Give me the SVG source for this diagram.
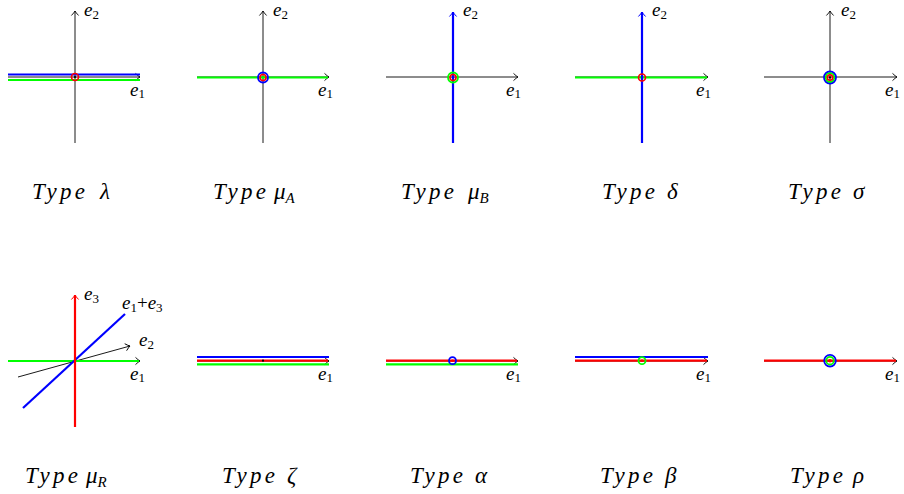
<svg xmlns="http://www.w3.org/2000/svg" width="904" height="494" viewBox="0 0 904 494">
<style>
.ax{stroke:#000;stroke-width:0.9;fill:none}
.b{stroke:#0000ff;stroke-width:2.2;fill:none}
.r{stroke:#ff0000;stroke-width:2.2;fill:none}
.gr{stroke:#00ff00;stroke-width:2.2;fill:none}
.cb{stroke:#0000ff;stroke-width:1.8;fill:none}
.cr{stroke:#ff0000;stroke-width:1.6;fill:none}
.cg{stroke:#00ff00;stroke-width:1.8;fill:none}
</style>
<defs>
<marker id="ak" markerUnits="userSpaceOnUse" markerWidth="12" markerHeight="12" refX="0" refY="0" viewBox="-6 -6 12 12" orient="auto" overflow="visible">
<path d="M-4.5,-3.6 Q-1.6,-0.8 0,0 Q-1.6,0.8 -4.5,3.6" stroke="#000" stroke-width="0.9" fill="none"/>
</marker>
<marker id="ab" markerUnits="userSpaceOnUse" markerWidth="12" markerHeight="12" refX="0" refY="0" viewBox="-6 -6 12 12" orient="auto" overflow="visible">
<path d="M-4.5,-3.6 Q-1.6,-0.8 0,0 Q-1.6,0.8 -4.5,3.6" stroke="#0000ff" stroke-width="1" fill="none"/>
</marker>
<marker id="ar" markerUnits="userSpaceOnUse" markerWidth="12" markerHeight="12" refX="0" refY="0" viewBox="-6 -6 12 12" orient="auto" overflow="visible">
<path d="M-4.5,-3.6 Q-1.6,-0.8 0,0 Q-1.6,0.8 -4.5,3.6" stroke="#ff0000" stroke-width="1" fill="none"/>
</marker>
</defs>

<g id="connectors">
<g id="lambda-lines">
<line class="ax" x1="75" y1="143" x2="75" y2="11" marker-end="url(#ak)"/>
<line class="ax" x1="8" y1="77" x2="140" y2="77" marker-end="url(#ak)"/>
<line class="b" x1="8" y1="74.5" x2="140" y2="74.5"/>
<line class="gr" x1="8" y1="80" x2="140" y2="80"/>
</g>
<g id="muA-lines">
<line class="ax" x1="263" y1="143" x2="263" y2="11" marker-end="url(#ak)"/>
<line class="ax" x1="197" y1="77" x2="329" y2="77" marker-end="url(#ak)"/>
<line class="gr" x1="197" y1="77.5" x2="328" y2="77.5"/>
</g>
<g id="muB-lines">
<line class="ax" x1="386" y1="77" x2="518" y2="77" marker-end="url(#ak)"/>
<line class="b" x1="453" y1="143" x2="453" y2="12" marker-end="url(#ab)"/>
</g>
<g id="delta-lines">
<line class="ax" x1="575" y1="77" x2="708" y2="77" marker-end="url(#ak)"/>
<line class="gr" x1="575" y1="77.5" x2="707" y2="77.5"/>
<line class="b" x1="642" y1="143" x2="642" y2="12" marker-end="url(#ab)"/>
</g>
<g id="sigma-lines">
<line class="ax" x1="830" y1="143" x2="830" y2="11" marker-end="url(#ak)"/>
<line class="ax" x1="764" y1="77" x2="897" y2="77" marker-end="url(#ak)"/>
</g>
<g id="muR-lines">
<line class="ax" x1="18" y1="377" x2="130" y2="346" marker-end="url(#ak)"/>
<line class="ax" x1="8" y1="361" x2="140" y2="361" marker-end="url(#ak)"/>
<line class="gr" x1="8" y1="361" x2="139" y2="361"/>
<line class="b" x1="23" y1="408" x2="125" y2="314"/>
<line class="r" x1="75" y1="427" x2="75" y2="295" marker-end="url(#ar)"/>
</g>
<g id="zeta-lines">
<line class="ax" x1="197" y1="361" x2="329" y2="361" marker-end="url(#ak)"/>
<line class="b" x1="197" y1="357" x2="329" y2="357"/>
<line class="r" x1="197" y1="360.7" x2="328" y2="360.7"/>
<line class="gr" x1="197" y1="364.3" x2="329" y2="364.3"/>
</g>
<g id="alpha-lines">
<line class="ax" x1="386" y1="361" x2="518" y2="361" marker-end="url(#ak)"/>
<line class="r" x1="386" y1="360.7" x2="517" y2="360.7"/>
<line class="gr" x1="386" y1="364.3" x2="518" y2="364.3"/>
</g>
<g id="beta-lines">
<line class="ax" x1="575" y1="361" x2="708" y2="361" marker-end="url(#ak)"/>
<line class="b" x1="575" y1="357" x2="708" y2="357"/>
<line class="r" x1="575" y1="360.7" x2="707" y2="360.7"/>
</g>
<g id="rho-lines">
<line class="ax" x1="764" y1="361" x2="897" y2="361" marker-end="url(#ak)"/>
<line class="r" x1="764" y1="360.7" x2="896" y2="360.7"/>
</g>
</g>

<g id="lambda">
<circle class="cr" cx="75" cy="77" r="3.5"/>
<circle cx="75" cy="77" r="1.1" fill="#000"/>
<text x="84" y="16" font-family="Liberation Serif" font-style="italic" font-size="19">e<tspan font-size="13" font-style="normal" dy="3">2</tspan></text>
<text x="130" y="96" font-family="Liberation Serif" font-style="italic" font-size="19">e<tspan font-size="13" font-style="normal" dy="2">1</tspan></text>
<text x="32" y="199" font-family="Liberation Serif" font-style="italic" font-size="23" textLength="53" lengthAdjust="spacing">Type</text>
<text x="100" y="199" font-family="Liberation Serif" font-style="italic" font-size="23">λ</text>
</g>

<g id="muA">
<circle class="cb" cx="263" cy="77.5" r="5"/>
<circle class="cr" cx="263" cy="77.5" r="3"/>
<circle cx="263" cy="77.5" r="1.2" fill="#00ff00"/>
<text x="273" y="16" font-family="Liberation Serif" font-style="italic" font-size="19">e<tspan font-size="13" font-style="normal" dy="3">2</tspan></text>
<text x="318" y="96" font-family="Liberation Serif" font-style="italic" font-size="19">e<tspan font-size="13" font-style="normal" dy="2">1</tspan></text>
<text x="213" y="199" font-family="Liberation Serif" font-style="italic" font-size="23" textLength="53" lengthAdjust="spacing">Type</text>
<text x="274" y="199" font-family="Liberation Serif" font-style="italic" font-size="23">μ<tspan font-size="15" dy="4">A</tspan></text>
</g>

<g id="muB">
<circle class="cg" cx="453" cy="77.5" r="5"/>
<circle class="cr" cx="453" cy="77.5" r="3"/>
<circle cx="453" cy="77.5" r="1.2" fill="#0000ff"/>
<text x="463" y="16" font-family="Liberation Serif" font-style="italic" font-size="19">e<tspan font-size="13" font-style="normal" dy="3">2</tspan></text>
<text x="506" y="96" font-family="Liberation Serif" font-style="italic" font-size="19">e<tspan font-size="13" font-style="normal" dy="2">1</tspan></text>
<text x="401" y="199" font-family="Liberation Serif" font-style="italic" font-size="23" textLength="53" lengthAdjust="spacing">Type</text>
<text x="468" y="199" font-family="Liberation Serif" font-style="italic" font-size="23">μ<tspan font-size="15" dy="4">B</tspan></text>
</g>

<g id="delta">
<circle class="cr" cx="642" cy="77.5" r="3.5"/>
<text x="652" y="16" font-family="Liberation Serif" font-style="italic" font-size="19">e<tspan font-size="13" font-style="normal" dy="3">2</tspan></text>
<text x="696" y="96" font-family="Liberation Serif" font-style="italic" font-size="19">e<tspan font-size="13" font-style="normal" dy="2">1</tspan></text>
<text x="602" y="199" font-family="Liberation Serif" font-style="italic" font-size="23" textLength="53" lengthAdjust="spacing">Type</text>
<text x="667" y="199" font-family="Liberation Serif" font-style="italic" font-size="23">δ</text>
</g>

<g id="sigma">
<circle class="cb" cx="830" cy="77.5" r="6"/>
<circle class="cg" cx="830" cy="77.5" r="4.3"/>
<circle class="cr" cx="830" cy="77.5" r="2.7"/>
<circle cx="830" cy="77.5" r="1.1" fill="#000"/>
<text x="841" y="16" font-family="Liberation Serif" font-style="italic" font-size="19">e<tspan font-size="13" font-style="normal" dy="3">2</tspan></text>
<text x="885" y="96" font-family="Liberation Serif" font-style="italic" font-size="19">e<tspan font-size="13" font-style="normal" dy="2">1</tspan></text>
<text x="788" y="199" font-family="Liberation Serif" font-style="italic" font-size="23" textLength="53" lengthAdjust="spacing">Type</text>
<text x="853" y="199" font-family="Liberation Serif" font-style="italic" font-size="23">σ</text>
</g>

<g id="muR">
<text x="84" y="300" font-family="Liberation Serif" font-style="italic" font-size="19">e<tspan font-size="13" font-style="normal" dy="3">3</tspan></text>
<text x="122" y="309" font-family="Liberation Serif" font-style="italic" font-size="19">e<tspan font-size="13" font-style="normal" dy="3">1</tspan><tspan font-style="normal" dy="-3">+</tspan>e<tspan font-size="13" font-style="normal" dy="3">3</tspan></text>
<text x="139" y="346" font-family="Liberation Serif" font-style="italic" font-size="19">e<tspan font-size="13" font-style="normal" dy="3">2</tspan></text>
<text x="130" y="380" font-family="Liberation Serif" font-style="italic" font-size="19">e<tspan font-size="13" font-style="normal" dy="2">1</tspan></text>
<text x="25" y="483" font-family="Liberation Serif" font-style="italic" font-size="23" textLength="53" lengthAdjust="spacing">Type</text>
<text x="86" y="483" font-family="Liberation Serif" font-style="italic" font-size="23">μ<tspan font-size="15" dy="4">R</tspan></text>
</g>

<g id="zeta">
<circle cx="263" cy="360.7" r="1.1" fill="#000"/>
<text x="318" y="380" font-family="Liberation Serif" font-style="italic" font-size="19">e<tspan font-size="13" font-style="normal" dy="2">1</tspan></text>
<text x="222" y="483" font-family="Liberation Serif" font-style="italic" font-size="23" textLength="53" lengthAdjust="spacing">Type</text>
<text x="287" y="483" font-family="Liberation Serif" font-style="italic" font-size="23">ζ</text>
</g>

<g id="alpha">
<circle class="cb" cx="452.5" cy="360.7" r="3.5"/>
<circle cx="452.5" cy="360.7" r="1.3" fill="#ff0000"/>
<text x="506" y="380" font-family="Liberation Serif" font-style="italic" font-size="19">e<tspan font-size="13" font-style="normal" dy="2">1</tspan></text>
<text x="410" y="483" font-family="Liberation Serif" font-style="italic" font-size="23" textLength="53" lengthAdjust="spacing">Type</text>
<text x="475" y="483" font-family="Liberation Serif" font-style="italic" font-size="23">α</text>
</g>

<g id="beta">
<circle class="cg" cx="642" cy="360.7" r="3.5"/>
<circle cx="642" cy="360.7" r="1.3" fill="#ff0000"/>
<text x="696" y="380" font-family="Liberation Serif" font-style="italic" font-size="19">e<tspan font-size="13" font-style="normal" dy="2">1</tspan></text>
<text x="600" y="483" font-family="Liberation Serif" font-style="italic" font-size="23" textLength="53" lengthAdjust="spacing">Type</text>
<text x="665" y="483" font-family="Liberation Serif" font-style="italic" font-size="23">β</text>
</g>

<g id="rho">
<circle class="cb" cx="830" cy="360.7" r="5.8"/>
<circle class="cg" cx="830" cy="360.7" r="3.8"/>
<circle cx="830" cy="360.7" r="1.8" fill="#ff0000"/>
<text x="885" y="380" font-family="Liberation Serif" font-style="italic" font-size="19">e<tspan font-size="13" font-style="normal" dy="2">1</tspan></text>
<text x="790" y="483" font-family="Liberation Serif" font-style="italic" font-size="23" textLength="53" lengthAdjust="spacing">Type</text>
<text x="853" y="483" font-family="Liberation Serif" font-style="italic" font-size="23">ρ</text>
</g>
</svg>
